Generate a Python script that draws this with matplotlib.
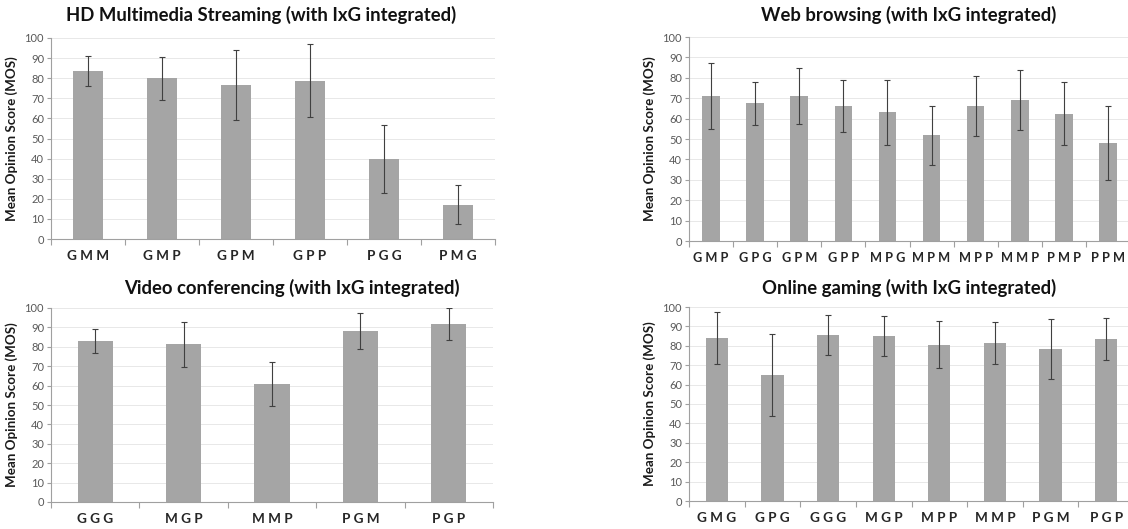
import numpy as np
import matplotlib.pyplot as plt

plt.rcParams['font.family'] = ['Lato', 'DejaVu Sans']

# HD Multimedia Streaming
hd_cats = ['G M M', 'G M P', 'G P M', 'G P P', 'P G G', 'P M G']
hd_mos = [83.7, 79.9, 76.8, 78.8, 39.8, 17.1]
hd_err = [7.5, 10.6, 17.4, 18.2, 16.7, 9.7]

# Web browsing
web_cats = ['G M P', 'G P G', 'G P M', 'G P P', 'M P G', 'M P M', 'M P P', 'M M P', 'P M P', 'P P M']
web_mos = [71.1, 67.5, 71.1, 66.2, 63.0, 51.8, 66.2, 69.2, 62.5, 48.0]
web_err = [16.2, 10.5, 13.9, 12.6, 15.9, 14.3, 14.8, 14.6, 15.2, 18.0]

# Video conferencing
vc_cats = ['G G G', 'M G P', 'M M P', 'P G M', 'P G P']
vc_mos = [83.1, 81.4, 60.7, 88.3, 91.7]
vc_err = [6.1, 11.6, 11.4, 9.3, 8.3]

# Online gaming
og_cats = ['G M G', 'G P G', 'G G G', 'M G P', 'M P P', 'M M P', 'P G M', 'P G P']
og_mos = [84.0, 65.1, 85.7, 85.2, 80.6, 81.4, 78.3, 83.5]
og_err = [13.2, 21.2, 10.3, 10.3, 12.2, 10.8, 15.4, 10.9]

W, H = 1128, 529
fig = plt.figure(figsize=(W / 100, H / 100), dpi=100)


def px(l, b, r, t):
    return [l / W, 1 - b / H, (r - l) / W, (b - t) / H]


def panel(rect, cats, mos, err, title, tx, ty, catsize=9.8):
    ax = fig.add_axes(rect)
    x = np.arange(len(cats))
    ax.bar(x, mos, width=0.4, color='#a5a5a5', zorder=2)
    ax.errorbar(x, mos, yerr=err, fmt='none', ecolor='#404040',
                elinewidth=0.8, capsize=2.2, capthick=0.8, zorder=3)
    ax.set_xlim(-0.5, len(cats) - 0.5)
    ax.set_ylim(0, 100)
    ax.set_yticks(np.arange(0, 101, 10))
    ax.yaxis.grid(True, color='#e4e4e4', lw=0.6, zorder=0)
    ax.set_xticks(x)
    ax.set_xticklabels(cats, fontsize=catsize, fontweight='bold', color='#262626')
    ax.set_xticks(np.arange(len(cats) + 1) - 0.5, minor=True)
    ax.tick_params(axis='x', which='major', length=0, pad=8)
    ax.tick_params(axis='x', which='minor', length=4, color='#a0a0a0', width=0.8)
    ax.tick_params(axis='y', length=3, color='#a0a0a0', width=0.8,
                   labelsize=8, labelcolor='#595959', pad=2)
    for s in ['top', 'right']:
        ax.spines[s].set_visible(False)
    for s in ['left', 'bottom']:
        ax.spines[s].set_color('#a0a0a0')
        ax.spines[s].set_linewidth(0.8)
    ax.set_ylabel('Mean Opinion Score (MOS)', fontsize=9.6, fontweight='bold',
                  color='#1a1a1a', labelpad=5)
    fig.text(tx / W, 1 - ty / H, title, ha='center', va='center',
             fontsize=13.3, fontweight='bold', color='#111111')
    return ax


panel(px(51, 239, 495, 38), hd_cats, hd_mos, hd_err,
      'HD Multimedia Streaming (with IxG integrated)', 261, 15)
panel(px(689, 241, 1130, 37), web_cats, web_mos, web_err,
      'Web browsing (with IxG integrated)', 909, 15, catsize=9.2)
panel(px(51, 502, 493, 308), vc_cats, vc_mos, vc_err,
      'Video conferencing (with IxG integrated)', 292, 288)
panel(px(689, 501, 1134, 307), og_cats, og_mos, og_err,
      'Online gaming (with IxG integrated)', 909, 288)

fig.savefig('out.png', dpi=100)
